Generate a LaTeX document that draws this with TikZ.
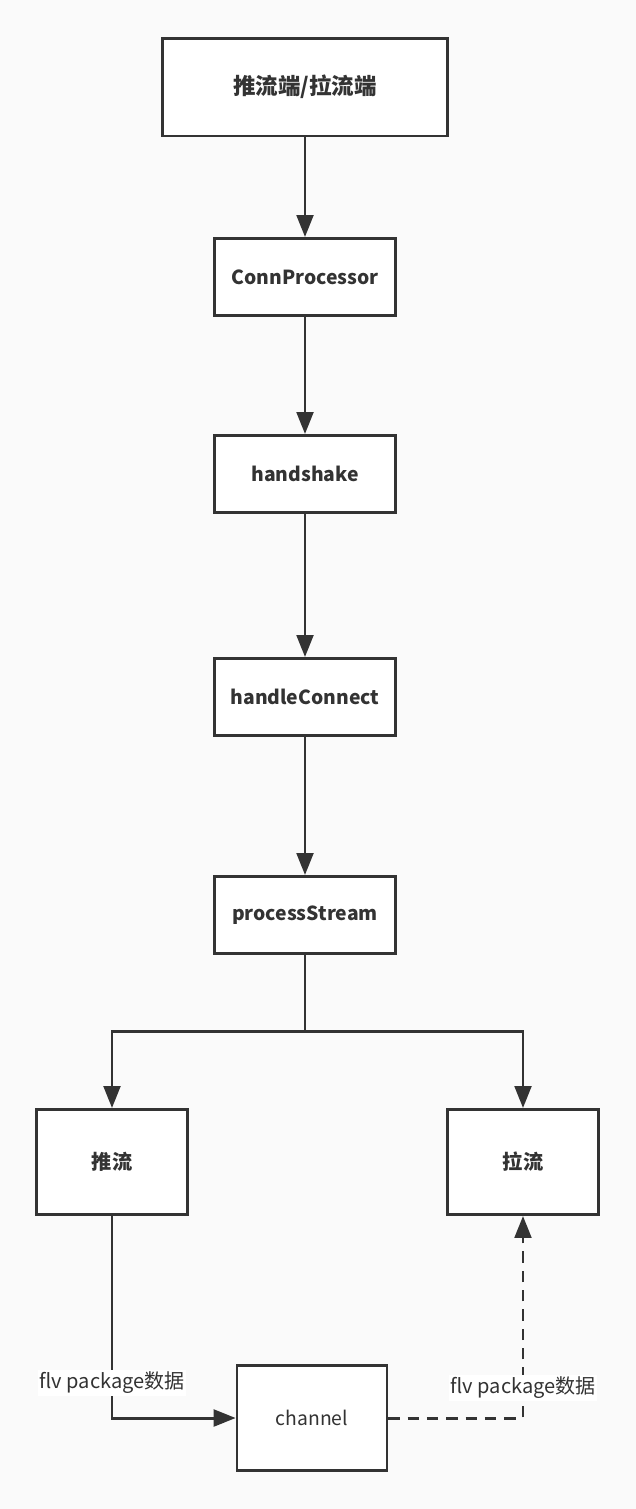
\documentclass[tikz,border=0pt]{standalone}
\usepackage{fontspec}
\setmainfont{Noto Sans CJK SC}
\usepackage{tikz}
\usetikzlibrary{arrows.meta,positioning}
\definecolor{ink}{HTML}{333333}
\definecolor{paper}{HTML}{FAFAFA}

\begin{document}
\begin{tikzpicture}[x=0.02cm,y=-0.02cm,font=\fontsize{11}{13}\selectfont,
  box/.style={draw=ink,line width=1.7pt,fill=white,text=ink,font=\fontsize{11}{13}\selectfont\bfseries,
    minimum width=3.64cm,minimum height=1.54cm,inner sep=0pt},
  arr/.style={draw=ink,line width=1.7pt,-{Triangle[length=12.5pt,width=9.5pt]}},
  lbl/.style={fill=white,text=ink,inner sep=1pt,font=\fontsize{11.4}{13}\selectfont}]
  % --- page
  \fill[paper] (0,0) rectangle (636,1509);
  % --- main chain
  \node[box,minimum width=5.72cm,minimum height=1.96cm,font=\fontsize{12.8}{15}\selectfont\bfseries] (client) at (305,87) {推流端/拉流端};
  \node[box] (conn) at (305,277) {ConnProcessor};
  \node[box] (hs) at (305,474) {handshake};
  \node[box] (hc) at (305,697) {handleConnect};
  \node[box] (ps) at (305,915) {processStream};
  \draw[arr] (client) -- (conn);
  \draw[arr] (conn) -- (hs);
  \draw[arr] (hs) -- (hc);
  \draw[arr] (hc) -- (ps);
  % --- push / pull
  \node[box,minimum width=3.02cm,minimum height=2.1cm,font=\fontsize{11.5}{13}\selectfont\bfseries] (push) at (112,1162) {推流};
  \node[box,minimum width=3.02cm,minimum height=2.1cm,font=\fontsize{11.5}{13}\selectfont\bfseries] (pull) at (523,1162) {拉流};
  \coordinate (split) at (305,1031);
  \draw[draw=ink,line width=1.7pt] (ps) -- (split);
  \draw[arr] (split) -| (push.north);
  \draw[arr] (split) -| (pull.north);
  % --- channel
  \node[box,line width=1.5pt,font=\fontsize{11}{13}\selectfont,minimum width=3.0cm,minimum height=2.1cm] (chan) at (312,1418) {channel};
  \draw[arr] (push.south) |- (chan.west);
  \draw[arr,dash pattern=on 6.5pt off 4.5pt] (chan.east) -| (pull.south);
  \node[lbl] (data1) at (112,1383) {flv package数据};
  \node[lbl] (data2) at (523,1388) {flv package数据};
\end{tikzpicture}
\end{document}
